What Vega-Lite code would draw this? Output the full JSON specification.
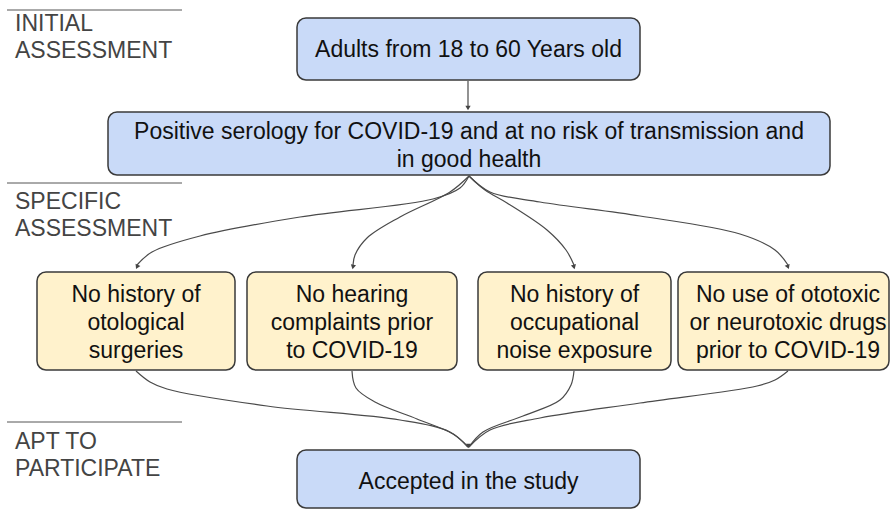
{
  "$schema": "https://vega.github.io/schema/vega-lite/v6.json",
  "width": 891,
  "height": 511,
  "autosize": {"type": "fit", "contains": "padding"},
  "padding": 0,
  "background": "white",
  "config": {"view": {"stroke": null}},
  "datasets": {
    "nodes": [
      {"id": "age", "label": "Adults from 18 to 60 Years old", "x1": 297, "x2": 640, "y1": 18, "y2": 80, "cx": 468.5, "cy": 48, "kind": "blue"},
      {"id": "sero", "label": "Positive serology for COVID-19 and at no risk of transmission and\nin good health", "x1": 108, "x2": 830, "y1": 112, "y2": 175, "cx": 469, "cy": 130, "kind": "blue"},
      {"id": "oto", "label": "No history of\notological\nsurgeries", "x1": 37, "x2": 235, "y1": 272, "y2": 370, "cx": 136, "cy": 293, "kind": "yellow"},
      {"id": "hear", "label": "No hearing\ncomplaints prior\nto COVID-19", "x1": 247, "x2": 457, "y1": 272, "y2": 370, "cx": 352, "cy": 293, "kind": "yellow"},
      {"id": "noise", "label": "No history of\noccupational\nnoise exposure", "x1": 478, "x2": 671, "y1": 272, "y2": 370, "cx": 574.5, "cy": 293, "kind": "yellow"},
      {"id": "drugs", "label": "No use of ototoxic\nor neurotoxic drugs\nprior to COVID-19", "x1": 678, "x2": 889, "y1": 272, "y2": 370, "cx": 788, "cy": 293, "kind": "yellow"},
      {"id": "acc", "label": "Accepted in the study", "x1": 297, "x2": 640, "y1": 450, "y2": 508, "cx": 468.5, "cy": 480, "kind": "blue"}
    ],
    "sections": [
      {"label": "INITIAL\nASSESSMENT", "x1": 7, "x2": 182, "ly": 10, "ty": 22},
      {"label": "SPECIFIC\nASSESSMENT", "x1": 7, "x2": 182, "ly": 183, "ty": 200},
      {"label": "APT TO\nPARTICIPATE", "x1": 7, "x2": 182, "ly": 422, "ty": 440}
    ],
    "edges": [
      {"edge": "e0", "i": 0, "x": 468, "y": 81},
      {"edge": "e0", "i": 1, "x": 468, "y": 106},
      {"edge": "eA", "i": 0, "x": 469, "y": 176},
      {"edge": "eA", "i": 1, "x": 460, "y": 188},
      {"edge": "eA", "i": 2, "x": 433, "y": 199},
      {"edge": "eA", "i": 3, "x": 300, "y": 217},
      {"edge": "eA", "i": 4, "x": 200, "y": 236},
      {"edge": "eA", "i": 5, "x": 152, "y": 252},
      {"edge": "eA", "i": 6, "x": 137, "y": 265},
      {"edge": "eB", "i": 0, "x": 469, "y": 176},
      {"edge": "eB", "i": 1, "x": 450, "y": 192},
      {"edge": "eB", "i": 2, "x": 400, "y": 217},
      {"edge": "eB", "i": 3, "x": 367, "y": 238},
      {"edge": "eB", "i": 4, "x": 355, "y": 255},
      {"edge": "eB", "i": 5, "x": 353, "y": 265},
      {"edge": "eC", "i": 0, "x": 469, "y": 176},
      {"edge": "eC", "i": 1, "x": 485, "y": 190},
      {"edge": "eC", "i": 2, "x": 507, "y": 203},
      {"edge": "eC", "i": 3, "x": 547, "y": 230},
      {"edge": "eC", "i": 4, "x": 566, "y": 250},
      {"edge": "eC", "i": 5, "x": 574, "y": 265},
      {"edge": "eD", "i": 0, "x": 469, "y": 176},
      {"edge": "eD", "i": 1, "x": 490, "y": 192},
      {"edge": "eD", "i": 2, "x": 540, "y": 202},
      {"edge": "eD", "i": 3, "x": 640, "y": 216},
      {"edge": "eD", "i": 4, "x": 740, "y": 234},
      {"edge": "eD", "i": 5, "x": 775, "y": 250},
      {"edge": "eD", "i": 6, "x": 788, "y": 265},
      {"edge": "fA", "i": 0, "x": 136, "y": 371},
      {"edge": "fA", "i": 1, "x": 150, "y": 382},
      {"edge": "fA", "i": 2, "x": 167, "y": 389},
      {"edge": "fA", "i": 3, "x": 267, "y": 406},
      {"edge": "fA", "i": 4, "x": 400, "y": 420},
      {"edge": "fA", "i": 5, "x": 450, "y": 432},
      {"edge": "fA", "i": 6, "x": 468, "y": 447},
      {"edge": "fB", "i": 0, "x": 352, "y": 371},
      {"edge": "fB", "i": 1, "x": 356, "y": 388},
      {"edge": "fB", "i": 2, "x": 375, "y": 402},
      {"edge": "fB", "i": 3, "x": 417, "y": 419},
      {"edge": "fB", "i": 4, "x": 453, "y": 434},
      {"edge": "fB", "i": 5, "x": 468, "y": 447},
      {"edge": "fC", "i": 0, "x": 574, "y": 371},
      {"edge": "fC", "i": 1, "x": 571, "y": 385},
      {"edge": "fC", "i": 2, "x": 560, "y": 400},
      {"edge": "fC", "i": 3, "x": 523, "y": 416},
      {"edge": "fC", "i": 4, "x": 483, "y": 432},
      {"edge": "fC", "i": 5, "x": 469, "y": 447},
      {"edge": "fD", "i": 0, "x": 788, "y": 371},
      {"edge": "fD", "i": 1, "x": 775, "y": 380},
      {"edge": "fD", "i": 2, "x": 757, "y": 386},
      {"edge": "fD", "i": 3, "x": 640, "y": 403},
      {"edge": "fD", "i": 4, "x": 540, "y": 418},
      {"edge": "fD", "i": 5, "x": 490, "y": 430},
      {"edge": "fD", "i": 6, "x": 469, "y": 447}
    ],
    "heads": [
      {"x": 468, "y": 108, "angle": 0},
      {"x": 137, "y": 267, "angle": 25},
      {"x": 353, "y": 267, "angle": 12},
      {"x": 574, "y": 267, "angle": -15},
      {"x": 788, "y": 267, "angle": -22},
      {"x": 468.5, "y": 446, "angle": 0}
    ]
  },
  "layer": [
    {
      "data": {"name": "sections"},
      "mark": {"type": "rule", "color": "#555555", "strokeWidth": 1},
      "encoding": {
        "x": {"field": "x1", "type": "quantitative", "scale": {"domain": [0, 891], "nice": false, "zero": false}, "axis": null},
        "x2": {"field": "x2"},
        "y": {"field": "ly", "type": "quantitative", "scale": {"domain": [0, 511], "nice": false, "zero": false, "reverse": true}, "axis": null}
      }
    },
    {
      "data": {"name": "sections"},
      "mark": {"type": "text", "align": "left", "baseline": "middle", "dy": 2, "font": "Liberation Sans", "fontSize": 23, "lineHeight": 27, "lineBreak": "\n", "color": "#444444"},
      "encoding": {
        "x": {"value": 15},
        "y": {"field": "ty", "type": "quantitative", "scale": {"domain": [0, 511], "nice": false, "zero": false, "reverse": true}, "axis": null},
        "text": {"field": "label"}
      }
    },
    {
      "data": {"name": "edges"},
      "mark": {"type": "line", "interpolate": "catmull-rom", "color": "#4a4a4a", "strokeWidth": 1.2},
      "encoding": {
        "x": {"field": "x", "type": "quantitative", "scale": {"domain": [0, 891], "nice": false, "zero": false}, "axis": null},
        "y": {"field": "y", "type": "quantitative", "scale": {"domain": [0, 511], "nice": false, "zero": false, "reverse": true}, "axis": null},
        "detail": {"field": "edge"},
        "order": {"field": "i", "type": "quantitative"}
      }
    },
    {
      "data": {"name": "heads"},
      "mark": {"type": "point", "shape": "triangle-down", "filled": true, "size": 28, "color": "#444444", "opacity": 1},
      "encoding": {
        "x": {"field": "x", "type": "quantitative", "scale": {"domain": [0, 891], "nice": false, "zero": false}, "axis": null},
        "y": {"field": "y", "type": "quantitative", "scale": {"domain": [0, 511], "nice": false, "zero": false, "reverse": true}, "axis": null},
        "angle": {"field": "angle", "type": "quantitative", "scale": null}
      }
    },
    {
      "data": {"name": "nodes"},
      "mark": {"type": "rect", "cornerRadius": 9, "stroke": "#3a3a3a", "strokeWidth": 1.5},
      "encoding": {
        "x": {"field": "x1", "type": "quantitative", "scale": {"domain": [0, 891], "nice": false, "zero": false}, "axis": null},
        "x2": {"field": "x2"},
        "y": {"field": "y1", "type": "quantitative", "scale": {"domain": [0, 511], "nice": false, "zero": false, "reverse": true}, "axis": null},
        "y2": {"field": "y2"},
        "fill": {"field": "kind", "type": "nominal", "scale": {"domain": ["blue", "yellow"], "range": ["#c9daf8", "#fff2cc"]}, "legend": null}
      }
    },
    {
      "data": {"name": "nodes"},
      "mark": {"type": "text", "align": "center", "baseline": "middle", "dy": 1.5, "font": "Liberation Sans", "fontSize": 23, "lineHeight": 28, "lineBreak": "\n", "color": "#111111"},
      "encoding": {
        "x": {"field": "cx", "type": "quantitative", "scale": {"domain": [0, 891], "nice": false, "zero": false}, "axis": null},
        "y": {"field": "cy", "type": "quantitative", "scale": {"domain": [0, 511], "nice": false, "zero": false, "reverse": true}, "axis": null},
        "text": {"field": "label"}
      }
    }
  ]
}
